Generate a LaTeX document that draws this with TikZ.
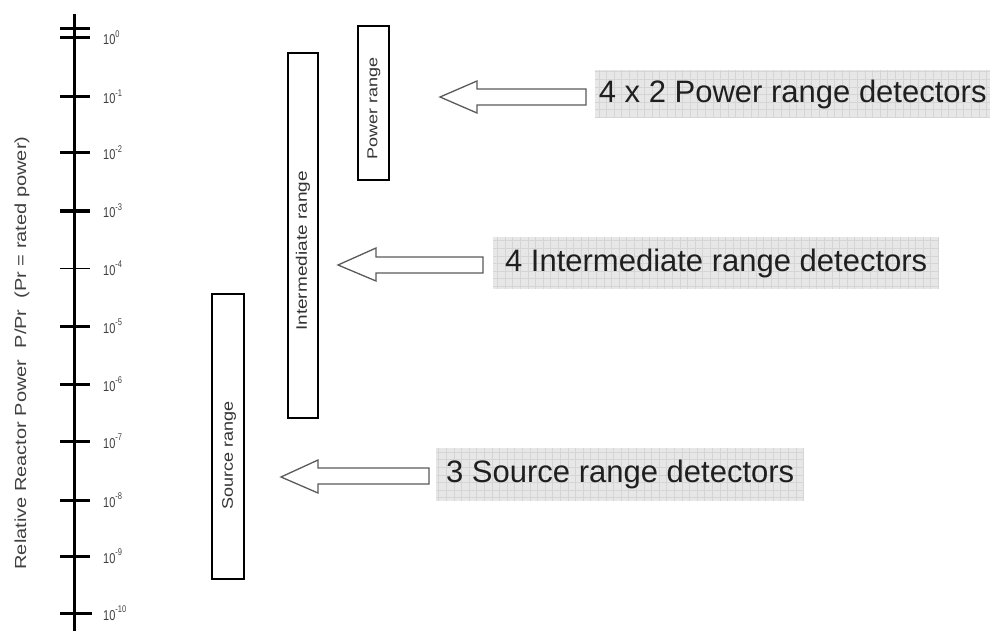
\documentclass[tikz,border=0pt]{standalone}
\usepackage{fontspec}
\setmainfont{Liberation Sans}
\definecolor{labelbg}{HTML}{E7E7E7}
\definecolor{labelgrid}{HTML}{D5D5D5}
\definecolor{axistext}{HTML}{404040}
\definecolor{arrowline}{HTML}{5A5A5A}
\newcommand{\tenpow}[1]{\scalebox{1}[1.3]{\fontsize{11}{11}\selectfont 10\raisebox{0.5em}{\fontsize{7.5}{7.5}\selectfont #1}}}
\begin{document}
\begin{tikzpicture}[x=1pt,y=-1pt,
  axisline/.style={line width=3pt,black},
  tickmark/.style={line width=3pt,black},
  thintick/.style={line width=1pt,black},
  ticklabel/.style={anchor=base west,inner sep=0pt,text=axistext},
  rangebox/.style={draw=black,line width=2.6pt,fill=white},
  rangetext/.style={rotate=90,inner sep=0pt,text=black!80},
  blockarrow/.style={draw=arrowline,line width=1.3pt,fill=white,line join=miter},
  detlabel/.style={anchor=west,fill=labelbg,inner xsep=0pt,inner ysep=0pt,
     text=black!88,font=\fontsize{31}{31}\selectfont,
     path picture={\draw[labelgrid,line width=0.5pt]
       (path picture bounding box.south west) grid[step=7.6pt]
       (path picture bounding box.north east);}}
]
\useasboundingbox (0,0) rectangle (990,631);

% axis
\coordinate (atop) at (74,14);
\coordinate (abot) at (74,631);
\draw[axisline] (atop) -- (abot);

% ticks
\draw[tickmark] (60,29) -- (90,29);
\draw[tickmark] (60,38) -- (90,38);
\foreach \y in {97,153,211,326,384,441,500,556}
  \draw[tickmark] (60,\y) -- (90,\y);
\draw[thintick] (60,268) -- (90,268);
\draw[tickmark] (60,613) -- (92,613);

% tick labels
\node[ticklabel] (t0) at (103,45) {\tenpow{0}};
\node[ticklabel] (t1) at (103,104) {\tenpow{-1}};
\node[ticklabel] (t2) at (103,160) {\tenpow{-2}};
\node[ticklabel] (t3) at (103,218) {\tenpow{-3}};
\node[ticklabel] (t4) at (103,275) {\tenpow{-4}};
\node[ticklabel] (t5) at (103,333) {\tenpow{-5}};
\node[ticklabel] (t6) at (103,391) {\tenpow{-6}};
\node[ticklabel] (t7) at (103,448) {\tenpow{-7}};
\node[ticklabel] (t8) at (103,507) {\tenpow{-8}};
\node[ticklabel] (t9) at (103,563) {\tenpow{-9}};
\node[ticklabel] (t10) at (103,620) {\tenpow{-10}};

% axis title
\node[rotate=90,inner sep=0pt,text=axistext] (ytitle) at (22,353)
  {\scalebox{1.25}[1]{\fontsize{16}{16}\selectfont Relative Reactor Power\ \ P/Pr\ \ (Pr = rated power)}};

% range boxes
\draw[rangebox] (358,26) rectangle (389,180);
\node[rangetext] (prtext) at (374,108) {\scalebox{1}[0.8]{\fontsize{18}{18}\selectfont Power range}};
\draw[rangebox] (288,53) rectangle (318,418);
\node[rangetext] (irtext) at (303,251) {\scalebox{1}[0.8]{\fontsize{19}{19}\selectfont Intermediate range}};
\draw[rangebox] (212,294) rectangle (244,579);
\node[rangetext] (srtext) at (229,455) {\scalebox{1}[0.85]{\fontsize{18}{18}\selectfont Source range}};

% detector labels
\node[detlabel,minimum width=395pt,minimum height=48pt] (pl) at (595,94) {4 x 2 Power range detectors};
\node[detlabel,minimum width=446pt,minimum height=52pt] (il) at (493,263) {4 Intermediate range detectors};
\node[detlabel,minimum width=368pt,minimum height=53pt] (sl) at (436,474.5) {3 Source range detectors};

% block arrows
\draw[blockarrow] (440,97) -- (477,81) -- (477,89) -- (586,89) -- (586,105) -- (477,105) -- (477,113) -- cycle;
\draw[blockarrow] (338,265) -- (376,248) -- (376,257) -- (483,257) -- (483,273) -- (376,273) -- (376,281) -- cycle;
\draw[blockarrow] (281,477) -- (318,460) -- (318,468) -- (429,468) -- (429,484) -- (318,484) -- (318,493) -- cycle;
\end{tikzpicture}
\end{document}
